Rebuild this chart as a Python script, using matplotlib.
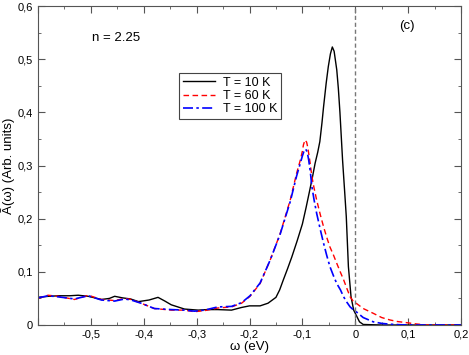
import matplotlib
matplotlib.use("Agg")
import matplotlib.pyplot as plt
from matplotlib.ticker import MultipleLocator, FuncFormatter

plt.rcParams['font.family'] = ['Liberation Sans', 'DejaVu Sans']

# T = 10 K
w10 = [-0.6, -0.58, -0.56, -0.54, -0.524, -0.505, -0.48, -0.465, -0.455, -0.44,
       -0.425, -0.41, -0.39, -0.373, -0.36, -0.348, -0.323, -0.297, -0.28, -0.26,
       -0.234, -0.215, -0.2, -0.18, -0.165, -0.15, -0.143, -0.136, -0.128, -0.12,
       -0.11, -0.1, -0.093, -0.086, -0.081, -0.076, -0.071, -0.067, -0.063, -0.06,
       -0.055, -0.051, -0.047, -0.0434, -0.04, -0.035, -0.032, -0.029, -0.024,
       -0.02, -0.017, -0.013, -0.008, -0.003, 0.003, 0.008, 0.015, 0.05, 0.2]
a10 = [0.052, 0.054, 0.055, 0.055, 0.056, 0.054, 0.048, 0.05, 0.054, 0.051,
       0.049, 0.044, 0.047, 0.052, 0.045, 0.038, 0.030, 0.028, 0.029, 0.029,
       0.028, 0.033, 0.036, 0.036, 0.041, 0.052, 0.066, 0.085, 0.106, 0.128,
       0.158, 0.19, 0.221, 0.254, 0.278, 0.304, 0.325, 0.345, 0.38, 0.41,
       0.455, 0.486, 0.51, 0.523, 0.515, 0.48, 0.445, 0.40, 0.31,
       0.25, 0.204, 0.11, 0.053, 0.028, 0.016, 0.006, 0.001, 0.0, 0.0]

# T = 60 K
w60 = [-0.6, -0.581, -0.562, -0.531, -0.505, -0.48, -0.455, -0.436, -0.424, -0.405,
       -0.38, -0.348, -0.323, -0.304, -0.285, -0.26, -0.234, -0.215, -0.199, -0.18,
       -0.161, -0.142, -0.123, -0.111, -0.104, -0.1, -0.098, -0.095, -0.092, -0.09,
       -0.087, -0.085, -0.082, -0.078, -0.073, -0.066, -0.06, -0.054, -0.048,
       -0.041, -0.035, -0.028, -0.022, -0.016, -0.0097, -0.004, 0.003, 0.015,
       0.034, 0.05, 0.066, 0.08, 0.097, 0.115, 0.135, 0.2]
a60 = [0.05, 0.056, 0.054, 0.048, 0.056, 0.048, 0.046, 0.05, 0.048, 0.041,
       0.031, 0.028, 0.028, 0.025, 0.027, 0.032, 0.034, 0.041, 0.054, 0.078,
       0.122, 0.172, 0.235, 0.285, 0.31, 0.327, 0.339, 0.348, 0.344, 0.335,
       0.316, 0.302, 0.279, 0.258, 0.235, 0.207, 0.185, 0.165, 0.147,
       0.131, 0.116, 0.099, 0.085, 0.069, 0.053, 0.045, 0.040, 0.031,
       0.022, 0.014, 0.0094, 0.0065, 0.0044, 0.002, 0.0, 0.0]

# T = 100 K
w100 = [-0.6, -0.581, -0.562, -0.531, -0.505, -0.48, -0.455, -0.436, -0.424, -0.405,
        -0.38, -0.348, -0.323, -0.304, -0.285, -0.26, -0.234, -0.215, -0.199, -0.18,
        -0.161, -0.142, -0.123, -0.111, -0.104, -0.1, -0.097, -0.094, -0.091,
        -0.088, -0.085, -0.082, -0.078, -0.073, -0.066, -0.06, -0.054, -0.048,
        -0.041, -0.035, -0.028, -0.022, -0.016, -0.0097, -0.004, 0.003, 0.015,
        0.034, 0.05, 0.066, 0.085, 0.1, 0.2]
a100 = [0.051, 0.055, 0.053, 0.049, 0.055, 0.047, 0.045, 0.049, 0.047, 0.041,
        0.031, 0.029, 0.028, 0.026, 0.028, 0.034, 0.035, 0.042, 0.055, 0.079,
        0.122, 0.171, 0.232, 0.28, 0.304, 0.318, 0.327, 0.331, 0.326,
        0.31, 0.288, 0.26, 0.236, 0.21, 0.179, 0.154, 0.131, 0.11,
        0.092, 0.078, 0.066, 0.053, 0.043, 0.034, 0.029, 0.024, 0.014,
        0.006, 0.003, 0.0015, 0.0005, 0.0, 0.0]

labels = ['T = 10 K', 'T = 60 K', 'T = 100 K']

fig = plt.figure(figsize=(4.69, 3.55), dpi=100)
ax = fig.add_axes([0.081, 0.0845, 0.902, 0.8985])

ax.plot(w10, a10, color='black', lw=1.0, label=labels[0])
ax.plot(w60, a60, color='red', lw=1.0, ls=(0, (4, 2.5)), label=labels[1])
ax.plot(w100, a100, color='blue', lw=1.2, ls=(0, (6, 2, 1.5, 2)), label=labels[2])
ax.axvline(0, color='#777777', lw=1.0, ls=(0, (3, 2)))

ax.set_xlim(-0.6, 0.2)
ax.set_ylim(0, 0.6)
ax.xaxis.set_major_locator(MultipleLocator(0.1))
ax.xaxis.set_minor_locator(MultipleLocator(0.05))
ax.yaxis.set_major_locator(MultipleLocator(0.1))
ax.yaxis.set_minor_locator(MultipleLocator(0.05))


def comma(v, pos):
    if abs(v) < 1e-9:
        return '0'
    return ('%.1f' % v).replace('.', ',')


def comma_x(v, pos):
    if v < -0.55:
        return ''
    return comma(v, pos)


ax.xaxis.set_major_formatter(FuncFormatter(comma_x))
ax.yaxis.set_major_formatter(FuncFormatter(comma))
ax.tick_params(which='both', direction='in', top=True, right=True,
               labelsize=8, color='#555555')
ax.tick_params(which='major', length=5)
ax.tick_params(which='minor', length=2.5)
for s in ax.spines.values():
    s.set_color('#555555')

ax.set_xlabel('ω (eV)', fontsize=9.5, labelpad=1)
ax.set_ylabel('Ã(ω) (Arb. units)', fontsize=9.5, labelpad=2)

ax.text(0.184, 0.9, 'n = 2.25', transform=ax.transAxes, fontsize=9.5,
        ha='center', va='center')
ax.text(0.872, 0.937, '(c)', transform=ax.transAxes, fontsize=9.5,
        ha='center', va='center')

leg = ax.legend(loc='upper left', bbox_to_anchor=(0.333, 0.79), fontsize=9,
                fancybox=False, edgecolor='#444444', framealpha=1,
                handlelength=2.6, handletextpad=0.6, borderpad=0.3,
                labelspacing=0.1, borderaxespad=0)
leg.get_frame().set_linewidth(0.8)

fig.savefig('out.png', dpi=100)
